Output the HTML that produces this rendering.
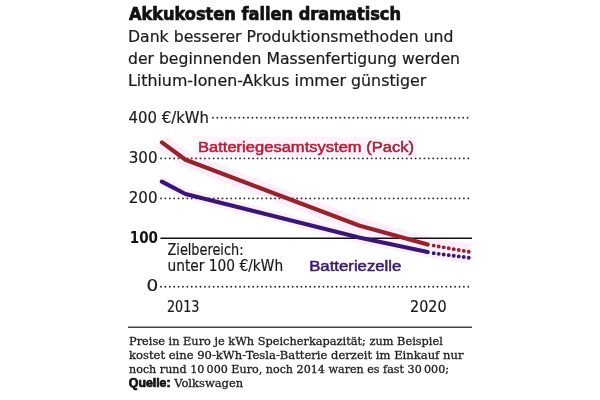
<!DOCTYPE html>
<html lang="de">
<head>
<meta charset="utf-8">
<title>Akkukosten fallen dramatisch</title>
<style>
html,body{margin:0;padding:0;background:#fff;}
body{width:600px;height:400px;overflow:hidden;}
svg{display:block;}
text{font-family:"Liberation Sans",sans-serif;fill:#1a1a1a;}
.ttl{font-family:"DejaVu Sans Condensed","DejaVu Sans","Liberation Sans",sans-serif;font-weight:bold;font-size:18px;fill:#111;stroke:#111;stroke-width:.7px;}
.sub{font-family:"DejaVu Sans","Liberation Sans",sans-serif;font-size:15px;fill:#1c1c1c;stroke:#1c1c1c;stroke-width:.2px;}
.ax{font-family:"DejaVu Sans","Liberation Sans",sans-serif;font-size:15.1px;stroke:#1a1a1a;stroke-width:.2px;}
.axb{font-family:"DejaVu Sans","Liberation Sans",sans-serif;font-size:15.1px;font-weight:bold;fill:#111;}
.lab{font-size:14px;stroke-width:.5px;}
.ft{font-family:"DejaVu Serif","Liberation Serif",serif;font-size:11.3px;fill:#1c1c1c;stroke:#1c1c1c;stroke-width:.3px;}
.ftb{font-family:"Liberation Sans",sans-serif;font-weight:bold;font-size:12px;fill:#111;stroke:#111;stroke-width:.7px;}
.dot{stroke:#2e2e2e;stroke-width:1.9;stroke-linecap:round;stroke-dasharray:0 4.39;fill:none;}
</style>
</head>
<body>
<svg width="600" height="400" viewBox="0 0 600 400">
<rect width="600" height="400" fill="#fff"/>
<text class="ttl" x="129" y="20" textLength="272" lengthAdjust="spacingAndGlyphs">Akkukosten fallen dramatisch</text>
<text class="sub" x="128" y="42" textLength="325.5" lengthAdjust="spacingAndGlyphs">Dank besserer Produktionsmethoden und</text>
<text class="sub" x="128" y="64" textLength="332" lengthAdjust="spacingAndGlyphs">der beginnenden Massenfertigung werden</text>
<text class="sub" x="128" y="86" textLength="298.3" lengthAdjust="spacingAndGlyphs">Lithium-Ionen-Akkus immer günstiger</text>

<g fill="none" stroke-linecap="butt" stroke-linejoin="round" opacity=".55">
<polyline points="160.7,141.5 185.5,159.7 359,225.5 429.6,245 470,252" stroke="#ffdff6" stroke-width="15"/>
<polyline points="160.7,181 185.5,194 359,237.5 429.6,252.4 470,258" stroke="#f6e6fb" stroke-width="11"/>
<rect x="196" y="137" width="220" height="20" fill="#ffe9f8" stroke="none"/>
</g>
<line class="dot" x1="212.9" y1="117.7" x2="470.5" y2="117.7"/>
<line class="dot" x1="161" y1="158.4" x2="470.5" y2="158.4"/>
<line class="dot" x1="161" y1="198.4" x2="470.5" y2="198.4"/>
<line class="dot" x1="161" y1="286.8" x2="470.5" y2="286.8"/>
<line x1="160.4" y1="238.2" x2="472" y2="238.2" stroke="#111" stroke-width="1.5"/>

<text class="ax" x="128.6" y="122.6" textLength="80.4" lengthAdjust="spacingAndGlyphs">400 €/kWh</text>
<text class="ax" x="128.7" y="162.8" textLength="28.8" lengthAdjust="spacingAndGlyphs">300</text>
<text class="ax" x="128.7" y="202.9" textLength="28.8" lengthAdjust="spacingAndGlyphs">200</text>
<text class="axb" x="129.8" y="243.1" textLength="28.2" lengthAdjust="spacingAndGlyphs">100</text>
<text class="ax" x="146.6" y="291.3" textLength="11.8" lengthAdjust="spacingAndGlyphs">0</text>
<text class="ax" x="167" y="311.5" textLength="32.4" lengthAdjust="spacingAndGlyphs">2013</text>
<text class="ax" x="410" y="311.5" textLength="36.6" lengthAdjust="spacingAndGlyphs">2020</text>

<text class="ax" x="167.5" y="255.3" textLength="76" lengthAdjust="spacingAndGlyphs">Zielbereich:</text>
<text class="ax" x="167.5" y="271.4" textLength="115.6" lengthAdjust="spacingAndGlyphs">unter 100 €/kWh</text>

<polyline points="161.9,142.4 185.5,159.7 359,225.5 427.7,244.5" fill="none" stroke="#94232a" stroke-width="4.2" stroke-linejoin="round" stroke-linecap="round"/>
<polyline points="161.9,181.6 185.5,194 359,237.5 427.7,252" fill="none" stroke="#3b1474" stroke-width="4.2" stroke-linejoin="round" stroke-linecap="round"/>
<line x1="433.7" y1="245.6" x2="468.8" y2="251.8" stroke="#94232a" stroke-width="3.9" stroke-linecap="round" stroke-dasharray="0 5.09"/>
<line x1="433.7" y1="253.2" x2="468.8" y2="257.7" stroke="#3c1674" stroke-width="3.9" stroke-linecap="round" stroke-dasharray="0 5.05"/>

<text class="lab" x="198" y="151.8" style="fill:#b3213a;stroke:#b3213a" textLength="216" lengthAdjust="spacingAndGlyphs">Batteriegesamtsystem <tspan style="fill:#972739;stroke:#972739">(Pack)</tspan></text>
<text class="lab" x="309.2" y="270.7" style="fill:#3d1a6e;stroke:#3d1a6e" textLength="92.2" lengthAdjust="spacingAndGlyphs">Batteriezelle</text>

<line x1="128" y1="327.2" x2="472" y2="327.2" stroke="#444" stroke-width="1.5"/>
<text class="ft" x="129" y="345" textLength="313.8" lengthAdjust="spacingAndGlyphs">Preise in Euro je kWh Speicherkapazität; zum Beispiel</text>
<text class="ft" x="129" y="359.4" textLength="334.5" lengthAdjust="spacingAndGlyphs">kostet eine 90-kWh-Tesla-Batterie derzeit im Einkauf nur</text>
<text class="ft" x="129" y="373.4" textLength="320" lengthAdjust="spacingAndGlyphs">noch rund 10 000 Euro, noch 2014 waren es fast 30 000;</text>
<text class="ftb" x="128.8" y="387.1" textLength="41.8" lengthAdjust="spacingAndGlyphs">Quelle:</text>
<text class="ft" x="174.2" y="387.1" textLength="69" lengthAdjust="spacingAndGlyphs">Volkswagen</text>
</svg>
</body>
</html>
